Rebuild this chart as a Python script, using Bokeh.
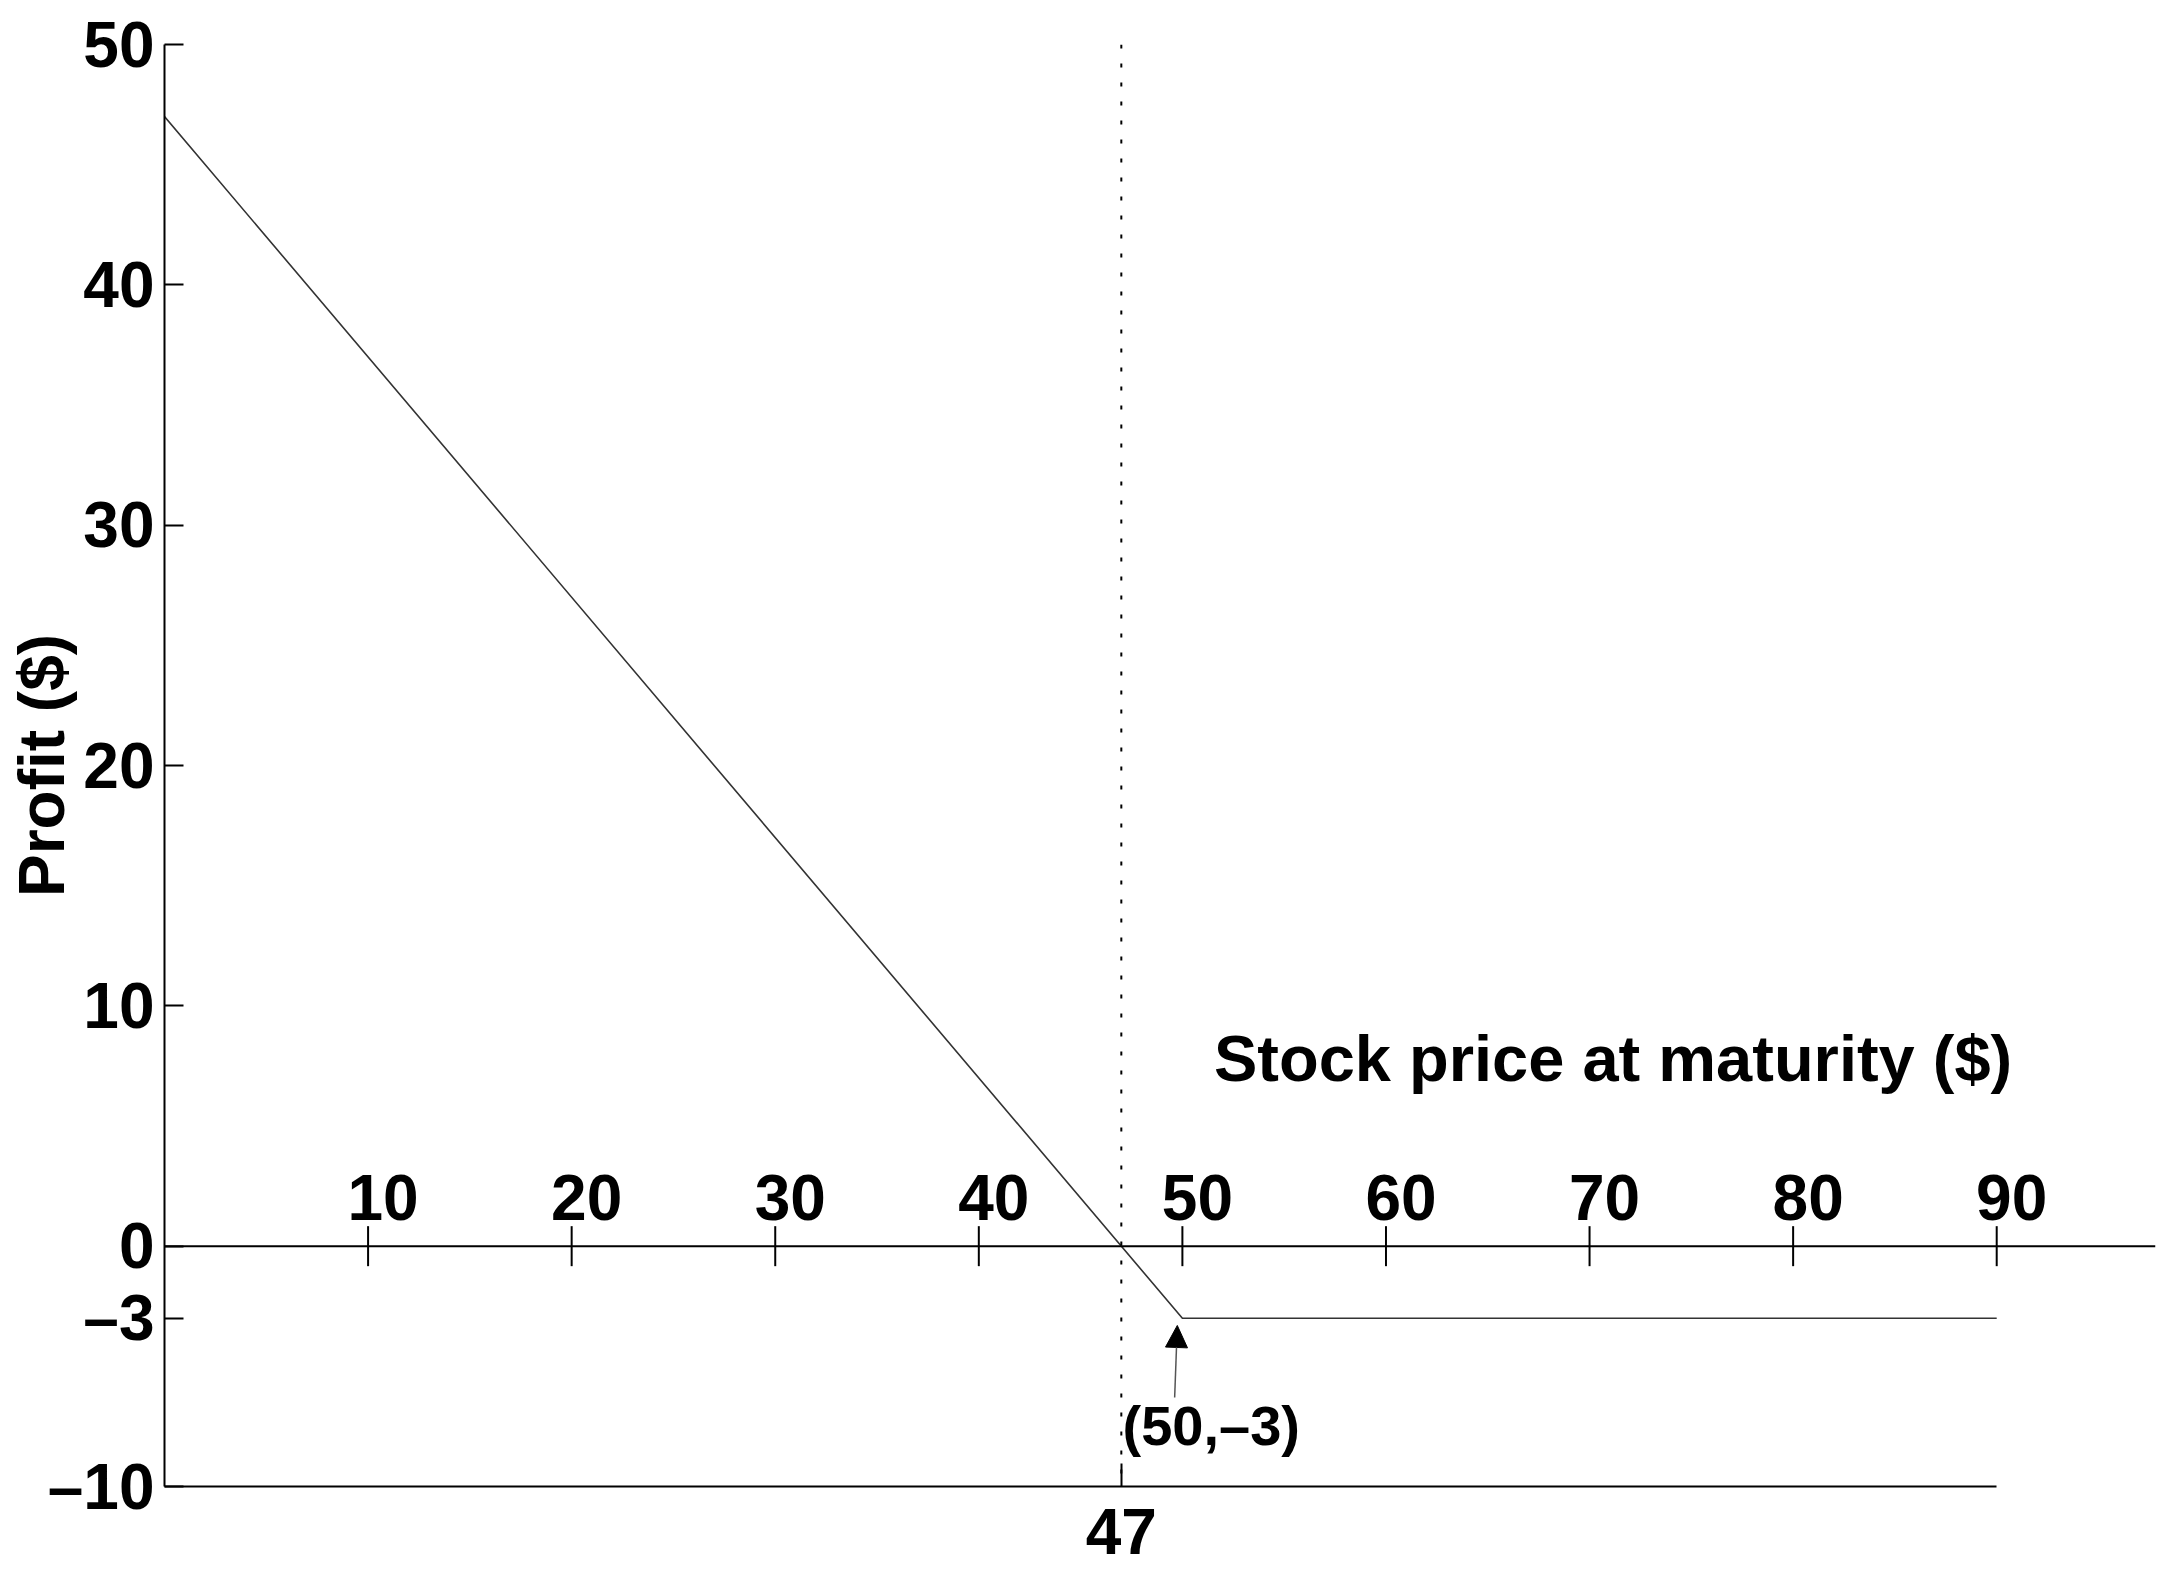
import math
from bokeh.plotting import figure
from bokeh.models import (Range1d, FixedTicker, ColumnDataSource, Span, Label,
                          Arrow, NormalHead)
from bokeh.core.properties import value
from bokeh.embed import file_html
from bokeh.resources import INLINE

# ---- data ----
stock_price = [0, 50, 90]
profit = [47, -3, -3]
x_ticks = [10, 20, 30, 40, 50, 60, 70, 80, 90]
x_tick_labels = ["10", "20", "30", "40", "50", "60", "70", "80", "90"]
y_ticks = [-10, -3, 0, 10, 20, 30, 40, 50]
y_tick_labels = ["\u201310", "\u20133", "0", "10", "20", "30", "40", "50"]
breakeven = 47
breakeven_label = "47"
kink_x, kink_y = 50, -3
kink_label = "(50,\u20133)"
x_title = "Stock price at maturity ($)"
y_title = "Profit ($)"

FONT = "Liberation Sans"

p = figure(width=2162, height=1580, output_backend="svg", toolbar_location=None,
           x_range=Range1d(0, 97.8), y_range=Range1d(-10, 50),
           min_border_left=164, min_border_right=7, min_border_top=44,
           min_border_bottom=94)
p.outline_line_color = None
p.xgrid.visible = False
p.ygrid.visible = False
p.background_fill_color = "white"
p.border_fill_color = "white"

# left (y) axis
ya = p.yaxis[0]
ya.ticker = FixedTicker(ticks=y_ticks, minor_ticks=[])
ya.major_label_overrides = {t: l for t, l in zip(y_ticks, y_tick_labels)}
ya.major_tick_in = 19
ya.major_tick_out = 0
ya.minor_tick_in = 0
ya.minor_tick_out = 0
ya.major_label_standoff = 10
ya.axis_line_width = 2
ya.major_tick_line_width = 2
ya.axis_line_color = "black"
ya.major_tick_line_color = "black"
ya.major_label_text_font = FONT
ya.major_label_text_font_style = "bold"
ya.major_label_text_font_size = "64px"
ya.major_label_text_color = "black"
ya.axis_label = y_title
ya.axis_label_standoff = -33
ya.axis_label_text_font = FONT
ya.axis_label_text_font_style = "bold"
ya.axis_label_text_font_size = "64px"
ya.axis_label_text_color = "black"

# bottom axis: only the break-even point
xa = p.xaxis[0]
xa.ticker = FixedTicker(ticks=[breakeven], minor_ticks=[])
xa.major_label_overrides = {breakeven: breakeven_label}
xa.bounds = (stock_price[0], stock_price[-1])
xa.major_tick_in = 23
xa.major_tick_out = 0
xa.minor_tick_in = 0
xa.minor_tick_out = 0
xa.major_label_standoff = 22
xa.axis_line_width = 2
xa.major_tick_line_width = 2
xa.axis_line_color = "black"
xa.major_tick_line_color = "black"
xa.major_label_text_font = FONT
xa.major_label_text_font_style = "bold"
xa.major_label_text_font_size = "64px"
xa.major_label_text_color = "black"

# horizontal axis through zero
p.add_layout(Span(location=0, dimension="width", line_color="black", line_width=2))

tick_src = ColumnDataSource(dict(x=x_ticks, y=[0] * len(x_ticks), label=x_tick_labels))
p.scatter(x="x", y="y", source=tick_src, marker="dash", angle=math.pi / 2, size=40,
          line_color="black", line_width=2)
p.text(x="x", y="y", text="label", source=tick_src, x_offset=15, y_offset=-49,
       text_align="center", text_baseline="alphabetic",
       text_font=value(FONT), text_font_style="bold", text_font_size="64px",
       text_color="black")

# dotted break-even line
p.add_layout(Span(location=breakeven, dimension="height", line_color="black",
                  line_width=2, line_dash="4 15"))

# profit line
p.line(stock_price, profit, line_color="#333333", line_width=1.6)

# annotation arrow and label
p.add_layout(Arrow(end=NormalHead(size=22, fill_color="black", line_color="black"),
                   x_start=kink_x - 0.38, y_start=kink_y - 3.3,
                   x_end=kink_x - 0.25, y_end=kink_y - 0.3,
                   line_color="#555555", line_width=1.5))
p.add_layout(Label(x=47.06, y=-7.45, text=kink_label, text_align="left",
                   text_baseline="alphabetic", text_font=FONT,
                   text_font_style="bold", text_font_size="56px",
                   text_color="black"))

# x title
p.add_layout(Label(x=51.55, y=7.82, text=x_title, text_align="left",
                   text_baseline="alphabetic", text_font=FONT,
                   text_font_style="bold", text_font_size="65px",
                   text_color="black"))

open("out.html", "w").write(file_html(p, INLINE))
